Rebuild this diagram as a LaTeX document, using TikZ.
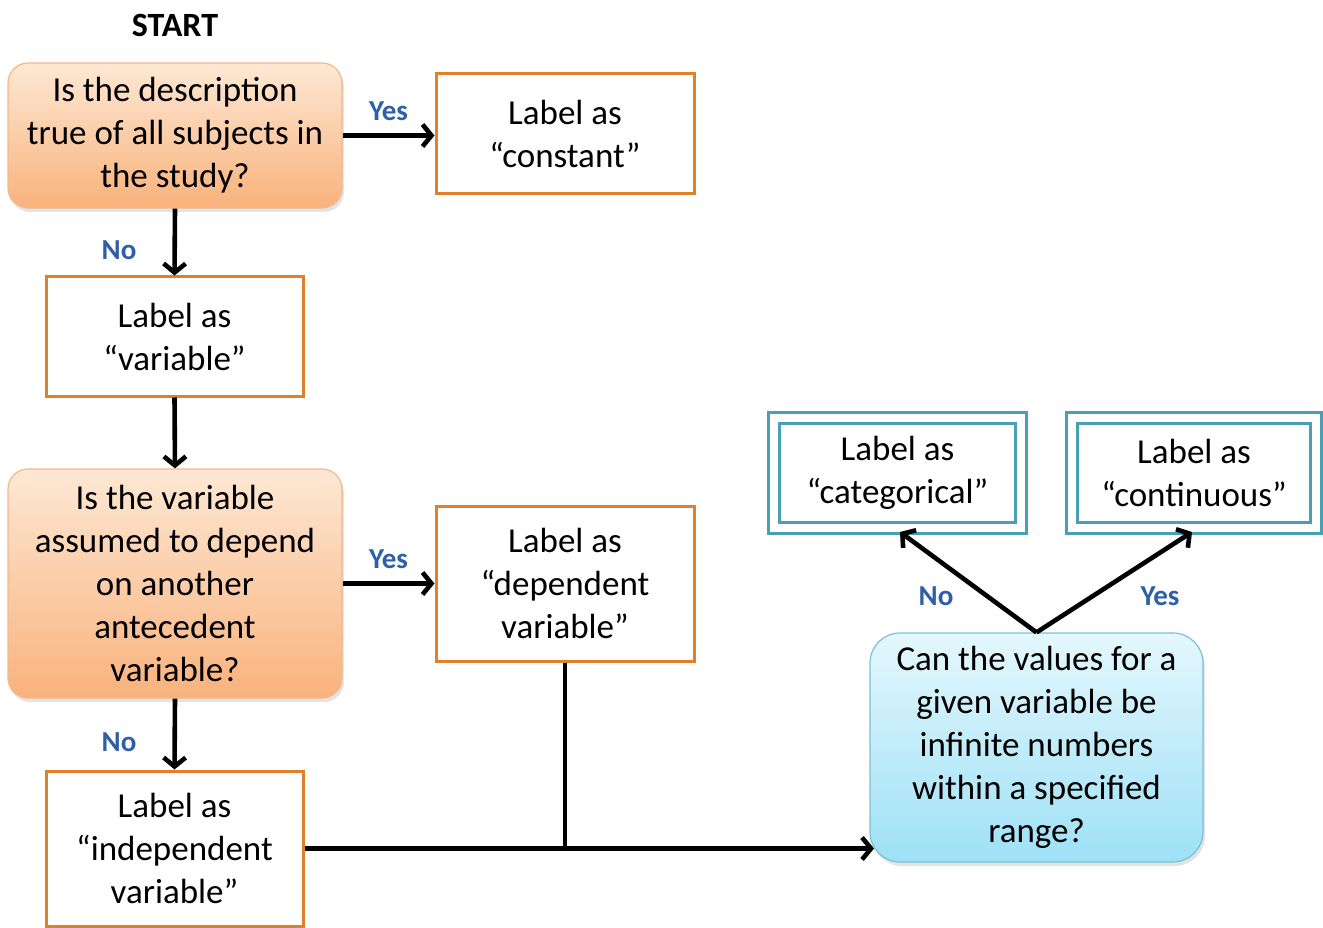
\documentclass[tikz,border=0pt]{standalone}
\usepackage{fontspec}
\setmainfont{Carlito}
\usetikzlibrary{arrows.meta,shadows}
\definecolor{boxorange}{RGB}{226,128,42}
\definecolor{qedge}{RGB}{243,184,138}
\definecolor{qtop}{RGB}{253,232,212}
\definecolor{qbot}{RGB}{249,178,124}
\definecolor{cedge}{RGB}{122,192,214}
\definecolor{ctop}{RGB}{228,247,253}
\definecolor{cbot}{RGB}{158,225,246}
\definecolor{tealedge}{RGB}{72,160,180}
\definecolor{ansblue}{RGB}{46,96,168}
\begin{document}
\begin{tikzpicture}[x=1pt,y=-1pt,
  txt/.style={font=\fontsize{35}{43}\selectfont, align=center, text=black, inner sep=0pt},
  question/.style={txt, rounded corners=20pt, draw=qedge, line width=1.2pt,
    top color=qtop, bottom color=qbot,
    drop shadow={opacity=0.22, shadow xshift=2pt, shadow yshift=-4pt}},
  cquestion/.style={txt, rounded corners=30pt, draw=cedge, line width=1.2pt,
    top color=ctop, bottom color=cbot,
    drop shadow={opacity=0.22, shadow xshift=2pt, shadow yshift=-4pt}},
  plainbox/.style={txt, draw=boxorange, line width=3pt, fill=white},
  finalbox/.style={txt, draw=tealedge, line width=3.2pt, double=white, double distance=8.5pt, fill=white},
  flow/.style={line width=4.6pt, -{Straight Barb[length=9pt,width=22pt]}},
  link/.style={line width=4.6pt},
  ans/.style={font=\fontsize{29}{33}\selectfont\bfseries, text=ansblue, inner sep=0pt}
]
\useasboundingbox (0,0) rectangle (1323,928);

% start marker
\node[font=\fontsize{34}{40}\selectfont\bfseries, inner sep=0pt] (start) at (175,25) {START};

% left column
\node[question, minimum width=334pt, minimum height=145pt] (q1) at (175,135.5)
  {Is the description\\true of all subjects in\\the study?};
\node[plainbox, minimum width=258pt, minimum height=120pt] (const) at (565,134)
  {Label as\\“constant”};
\node[plainbox, minimum width=257pt, minimum height=119pt] (var) at (174.5,336.5)
  {Label as\\“variable”};
\node[question, minimum width=334pt, minimum height=229pt] (q2) at (175,583.5)
  {Is the variable\\assumed to depend\\on another\\antecedent\\variable?};
\node[plainbox, minimum width=258pt, minimum height=155pt] (dep) at (565,583.5)
  {Label as\\“dependent\\variable”};
\node[plainbox, minimum width=257pt, minimum height=155pt] (indep) at (174.5,848.5)
  {Label as\\“independent\\variable”};

% right side
\node[cquestion, minimum width=333pt, minimum height=229pt] (q3) at (1036.5,747.5)
  {Can the values for a\\given variable be\\infinite numbers\\within a specified\\range?};
\node[finalbox, minimum width=247pt, minimum height=110pt] (cat) at (897.5,473)
  {Label as\\“categorical”};
\node[finalbox, minimum width=244pt, minimum height=110pt] (cont) at (1194,473)
  {Label as\\“continuous”};

% connectors
\draw[flow] (q1.east) -- (const.west |- q1.east) node[ans, pos=0.5, above=12pt] (y1) {Yes};
\draw[flow] (q1.south) -- (var.north) node[ans, pos=0.62, left=36pt] (n1) {No};
\draw[flow] (var.south) -- (q2.north);
\draw[flow] (q2.east |- dep.west) -- (dep.west) node[ans, pos=0.5, above=12pt] (y2) {Yes};
\draw[flow] (q2.south) -- (indep.north) node[ans, pos=0.62, left=36pt] (n2) {No};

\coordinate (join) at (dep.south |- indep.east);
\coordinate (q3in) at (874,848.5);
\draw[link] (dep.south) -- (join);
\draw[flow] (indep.east) -- (q3in);

\coordinate (catin) at (900,532);
\coordinate (contin) at (1192,532);
\draw[flow] (q3.north) -- (catin);
\draw[flow] (q3.north) -- (contin);
\node[ans] (n3) at (936,596) {No};
\node[ans] (y3) at (1160,596) {Yes};
\end{tikzpicture}
\end{document}
